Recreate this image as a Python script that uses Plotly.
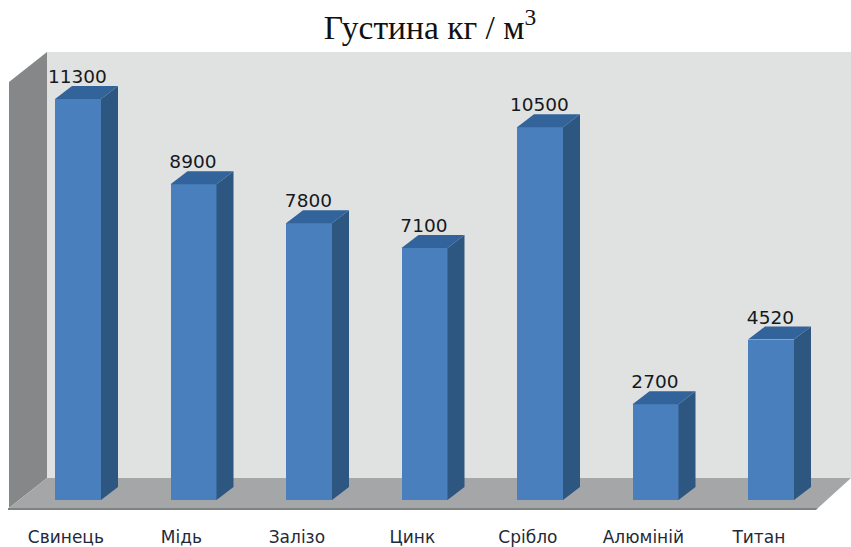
import plotly.graph_objects as go

categories = ["Свинець", "Мідь", "Залізо", "Цинк", "Срібло", "Алюміній", "Титан"]
density = [11300, 8900, 7800, 7100, 10500, 2700, 4520]

W, H = 851, 547
BOTTOM = 22
X0, XSTEP = 78.0, 115.5      # pixel centre of first bar, pixels per category
Y0, YSCALE = 500.0, 0.03549  # pixel of value 0, pixels per unit

def xd(px):
    return (px - X0) / XSTEP

def yd(py):
    return (Y0 - py) / YSCALE

def path(points):
    return "M " + " L ".join(f"{xd(x):.4f},{yd(y):.1f}" for x, y in points) + " Z"

hw = 23 / XSTEP
dx = 17 / XSTEP
dy = 13 / YSCALE

fig = go.Figure()

fig.add_trace(go.Bar(
    x=list(range(len(categories))), y=density, width=2 * hw,
    marker=dict(color="#4a7fbd", line=dict(width=0)), hoverinfo="skip", showlegend=False,
))

for i, v in enumerate(density):
    fig.add_trace(go.Scatter(
        x=[i + hw, i + hw + dx, i + hw + dx, i + hw, i + hw],
        y=[0, dy, v + dy, v, 0],
        mode="lines", fill="toself", fillcolor="#2d5681", line=dict(width=0),
        hoverinfo="skip", showlegend=False,
    ))
    fig.add_trace(go.Scatter(
        x=[i - hw, i - hw + dx, i + hw + dx, i + hw, i - hw],
        y=[v, v + dy, v + dy, v, v],
        mode="lines", fill="toself", fillcolor="#32639a", line=dict(width=0),
        hoverinfo="skip", showlegend=False,
    ))

fig.add_trace(go.Scatter(
    x=[i - 0.005 for i in range(len(categories))],
    y=[v + dy * 0.87 for v in density],
    text=[str(v) for v in density],
    mode="text", textposition="top center",
    textfont=dict(family="DejaVu Sans", size=18.5, color="#15181c"),
    hoverinfo="skip", showlegend=False, cliponaxis=False,
))

shapes = [
    dict(type="path", path=path([(47, 52), (851, 52), (851, 478), (47, 478)]),
         fillcolor="#e0e2e2", line=dict(width=0), layer="below"),
    dict(type="path", path=path([(9, 82), (47, 52), (47, 478), (9, 508)]),
         fillcolor="#858788", line=dict(width=0), layer="below"),
    dict(type="path", path=path([(9, 508), (47, 478), (851, 478), (818, 508)]),
         fillcolor="#a5a6a7", line=dict(width=0), layer="below"),
    dict(type="path", path=path([(8, 508), (818, 508), (816, 510), (8, 510)]),
         fillcolor="#7f8283", line=dict(width=0), layer="below"),
]

fig.update_layout(
    width=W, height=H,
    margin=dict(l=0, r=0, t=0, b=BOTTOM, autoexpand=False),
    paper_bgcolor="white", plot_bgcolor="white",
    showlegend=False, shapes=shapes, bargap=0,
    title=dict(
        text="Густина кг / м<sup>3</sup>",
        x=430 / W, xanchor="center", y=1 - 27 / H, yanchor="middle",
        font=dict(family="Liberation Serif", size=33.5, color="#111111"),
    ),
    xaxis=dict(
        range=[xd(0), xd(W)],
        tickmode="array",
        tickvals=[i - 0.105 for i in range(len(categories))],
        ticktext=categories,
        tickfont=dict(family="DejaVu Sans", size=17, color="#1f2a38"),
        ticks="", showgrid=False, zeroline=False, showline=False,
    ),
    yaxis=dict(
        range=[yd(H - BOTTOM), yd(0)],
        visible=False, showgrid=False, zeroline=False,
    ),
)

fig.write_html(
    "out.html",
    config={"displayModeBar": False},
    post_script="document.body.style.margin='0';document.body.style.overflow='hidden';",
)
